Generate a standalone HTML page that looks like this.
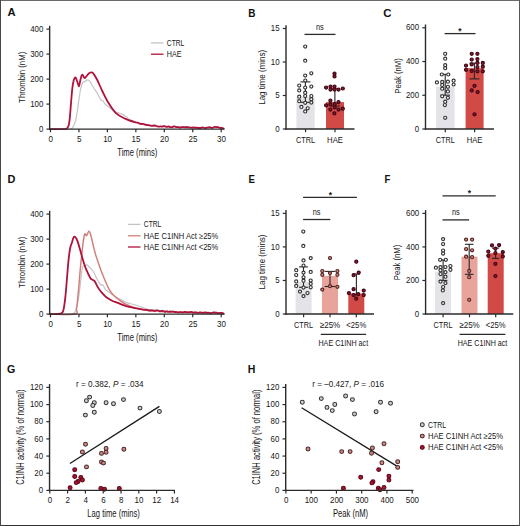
<!DOCTYPE html><html><head><meta charset="utf-8"><style>html,body{margin:0;padding:0;background:#fff;}svg{display:block;}text{font-family:"Liberation Sans",sans-serif;}</style></head><body>
<svg width="520" height="526" viewBox="0 0 520 526">
<rect x="0" y="0" width="520" height="526" fill="#ffffff"/>
<text x="7.40" y="16.40" font-size="11" text-anchor="start" font-weight="bold" fill="#111" textLength="8.10" lengthAdjust="spacingAndGlyphs">A</text>
<text x="248.20" y="16.70" font-size="11" text-anchor="start" font-weight="bold" fill="#111" textLength="7.20" lengthAdjust="spacingAndGlyphs">B</text>
<text x="383.20" y="16.80" font-size="11" text-anchor="start" font-weight="bold" fill="#111" textLength="8.20" lengthAdjust="spacingAndGlyphs">C</text>
<text x="7.40" y="183.10" font-size="11" text-anchor="start" font-weight="bold" fill="#111" textLength="7.90" lengthAdjust="spacingAndGlyphs">D</text>
<text x="248.50" y="183.10" font-size="11" text-anchor="start" font-weight="bold" fill="#111" textLength="6.40" lengthAdjust="spacingAndGlyphs">E</text>
<text x="384.60" y="183.30" font-size="11" text-anchor="start" font-weight="bold" fill="#111" textLength="5.80" lengthAdjust="spacingAndGlyphs">F</text>
<text x="7.00" y="372.80" font-size="11" text-anchor="start" font-weight="bold" fill="#111" textLength="8.30" lengthAdjust="spacingAndGlyphs">G</text>
<text x="247.80" y="372.90" font-size="11" text-anchor="start" font-weight="bold" fill="#111" textLength="7.60" lengthAdjust="spacingAndGlyphs">H</text>
<path d="M50.00,129.10 C53.30,129.10 65.92,129.55 69.80,129.10 C73.68,128.65 72.33,127.87 73.30,126.40 C74.27,124.93 74.92,122.93 75.60,120.30 C76.28,117.67 76.82,114.25 77.40,110.60 C77.98,106.95 78.55,102.05 79.10,98.40 C79.65,94.75 80.10,91.33 80.70,88.70 C81.30,86.07 81.97,83.82 82.70,82.60 C83.43,81.38 84.30,81.85 85.10,81.40 C85.90,80.95 86.68,79.90 87.50,79.90 C88.32,79.90 89.25,80.55 90.00,81.40 C90.75,82.25 91.25,83.73 92.00,85.00 C92.75,86.27 93.67,87.73 94.50,89.00 C95.33,90.27 96.25,91.35 97.00,92.60 C97.75,93.85 98.33,95.27 99.00,96.50 C99.67,97.73 100.33,99.25 101.00,100.00 C101.67,100.75 102.33,100.33 103.00,101.00 C103.67,101.67 104.33,103.25 105.00,104.00 C105.67,104.75 106.17,104.83 107.00,105.50 C107.83,106.17 109.17,107.28 110.00,108.00 C110.83,108.72 111.33,109.38 112.00,109.80 C112.67,110.21 113.33,110.12 114.00,110.50 C114.67,110.88 115.33,111.74 116.00,112.09 C116.67,112.44 117.17,112.31 118.00,112.60 C118.83,112.89 120.17,113.51 121.00,113.80 C121.83,114.09 122.33,114.00 123.00,114.37 C123.67,114.73 124.39,115.62 125.00,116.00 C125.61,116.38 126.11,116.21 126.67,116.67 C127.22,117.12 127.78,118.26 128.33,118.74 C128.89,119.21 129.39,119.19 130.00,119.50 C130.61,119.81 131.33,120.30 132.00,120.62 C132.67,120.93 133.33,121.14 134.00,121.37 C134.67,121.60 135.37,121.86 136.00,122.00 C136.63,122.14 137.19,122.06 137.78,122.24 C138.38,122.41 138.97,122.85 139.57,123.06 C140.16,123.28 140.76,123.38 141.35,123.53 C141.94,123.68 142.54,123.90 143.13,123.96 C143.73,124.03 144.32,123.78 144.92,123.92 C145.51,124.06 146.11,124.63 146.70,124.80 C147.29,124.97 147.88,124.90 148.47,124.97 C149.06,125.03 149.64,125.03 150.23,125.17 C150.82,125.31 151.41,125.61 152.00,125.82 C152.59,126.02 153.18,126.27 153.77,126.39 C154.36,126.52 154.94,126.60 155.53,126.59 C156.12,126.57 156.74,126.33 157.30,126.30 C157.86,126.27 158.38,126.41 158.92,126.41 C159.46,126.42 160.01,126.39 160.55,126.36 C161.09,126.32 161.63,126.27 162.17,126.21 C162.71,126.15 163.25,126.02 163.79,125.99 C164.33,125.96 164.87,125.93 165.42,126.04 C165.96,126.15 166.50,126.55 167.04,126.63 C167.58,126.71 168.12,126.51 168.66,126.51 C169.20,126.52 169.74,126.51 170.28,126.65 C170.83,126.78 171.37,127.27 171.91,127.32 C172.45,127.37 172.99,126.99 173.53,126.95 C174.07,126.90 174.61,127.09 175.15,127.05 C175.69,127.01 176.24,126.71 176.78,126.72 C177.32,126.73 177.86,127.12 178.40,127.10 C178.94,127.08 179.49,126.61 180.03,126.60 C180.57,126.59 181.12,126.98 181.66,127.03 C182.21,127.07 182.75,126.81 183.29,126.87 C183.84,126.93 184.38,127.19 184.92,127.39 C185.47,127.58 186.01,127.99 186.55,128.04 C187.10,128.10 187.64,127.87 188.18,127.72 C188.73,127.58 189.27,127.14 189.82,127.20 C190.36,127.27 190.90,127.98 191.45,128.13 C191.99,128.27 192.53,128.09 193.08,128.08 C193.62,128.07 194.16,128.03 194.71,128.07 C195.25,128.12 195.79,128.32 196.34,128.35 C196.88,128.38 197.43,128.30 197.97,128.25 C198.51,128.19 199.05,127.99 199.60,128.00 C200.15,128.01 200.73,128.33 201.29,128.28 C201.85,128.23 202.42,127.67 202.98,127.68 C203.54,127.70 204.11,128.27 204.67,128.37 C205.23,128.47 205.80,128.46 206.36,128.27 C206.92,128.09 207.49,127.31 208.05,127.24 C208.61,127.18 209.18,127.80 209.74,127.88 C210.30,127.97 210.87,127.85 211.43,127.77 C211.99,127.69 212.56,127.45 213.12,127.39 C213.68,127.33 214.25,127.42 214.81,127.41 C215.37,127.39 215.93,127.28 216.50,127.30 C217.07,127.32 217.66,127.36 218.23,127.52 C218.81,127.68 219.39,128.20 219.97,128.28 C220.54,128.36 221.13,127.95 221.70,128.00 C222.27,128.05 223.12,128.50 223.40,128.60" fill="none" stroke="#c4c4c8" stroke-width="1.2" stroke-linejoin="round" stroke-linecap="round"/>
<path d="M50.00,129.10 C51.67,129.10 57.25,129.17 60.00,129.10 C62.75,129.03 65.05,129.35 66.50,128.70 C67.95,128.05 68.13,127.20 68.70,125.20 C69.27,123.20 69.50,120.57 69.90,116.70 C70.30,112.83 70.70,106.67 71.10,102.00 C71.50,97.33 71.88,92.23 72.30,88.70 C72.72,85.17 73.08,82.67 73.60,80.80 C74.12,78.93 74.80,77.40 75.40,77.50 C76.00,77.60 76.60,79.92 77.20,81.40 C77.80,82.88 78.50,86.50 79.00,86.40 C79.50,86.30 79.78,82.57 80.20,80.80 C80.62,79.03 81.08,76.78 81.50,75.80 C81.92,74.82 82.20,74.53 82.70,74.90 C83.20,75.27 83.90,77.73 84.50,78.00 C85.10,78.27 85.58,77.25 86.30,76.50 C87.02,75.75 88.02,74.18 88.80,73.50 C89.58,72.82 90.30,72.45 91.00,72.40 C91.70,72.35 92.00,72.02 93.00,73.20 C94.00,74.38 95.45,76.53 97.00,79.50 C98.55,82.47 100.53,87.33 102.30,91.00 C104.07,94.67 105.38,97.87 107.60,101.50 C109.82,105.13 112.70,109.95 115.60,112.80 C118.50,115.65 121.60,116.98 125.00,118.60 C128.40,120.22 133.87,121.84 136.00,122.50 C138.13,123.16 137.19,122.40 137.78,122.59 C138.38,122.78 138.97,123.41 139.57,123.65 C140.16,123.88 140.76,123.94 141.35,123.99 C141.94,124.04 142.54,123.85 143.13,123.95 C143.73,124.04 144.32,124.40 144.92,124.58 C145.51,124.75 146.11,124.90 146.70,125.00 C147.29,125.10 147.88,125.08 148.47,125.17 C149.06,125.27 149.64,125.45 150.23,125.57 C150.82,125.69 151.41,125.92 152.00,125.91 C152.59,125.90 153.18,125.54 153.77,125.50 C154.36,125.46 154.94,125.53 155.53,125.66 C156.12,125.79 156.74,126.13 157.30,126.30 C157.86,126.47 158.38,126.65 158.92,126.66 C159.46,126.67 160.01,126.35 160.55,126.36 C161.09,126.37 161.63,126.76 162.17,126.72 C162.71,126.68 163.25,126.13 163.79,126.10 C164.33,126.07 164.87,126.43 165.42,126.56 C165.96,126.69 166.50,126.88 167.04,126.87 C167.58,126.86 168.12,126.43 168.66,126.49 C169.20,126.54 169.74,127.07 170.28,127.19 C170.83,127.31 171.37,127.33 171.91,127.22 C172.45,127.10 172.99,126.60 173.53,126.49 C174.07,126.38 174.61,126.45 175.15,126.55 C175.69,126.65 176.24,126.98 176.78,127.08 C177.32,127.17 177.86,127.02 178.40,127.10 C178.94,127.18 179.49,127.56 180.03,127.56 C180.57,127.57 181.12,127.22 181.66,127.13 C182.21,127.05 182.75,127.02 183.29,127.05 C183.84,127.08 184.38,127.31 184.92,127.31 C185.47,127.30 186.01,127.03 186.55,127.02 C187.10,127.02 187.64,127.18 188.18,127.26 C188.73,127.35 189.27,127.46 189.82,127.53 C190.36,127.59 190.90,127.66 191.45,127.65 C191.99,127.64 192.53,127.50 193.08,127.48 C193.62,127.47 194.16,127.53 194.71,127.55 C195.25,127.57 195.79,127.55 196.34,127.61 C196.88,127.67 197.43,127.83 197.97,127.89 C198.51,127.96 199.05,128.03 199.60,128.00 C200.15,127.97 200.73,127.82 201.29,127.72 C201.85,127.62 202.42,127.34 202.98,127.39 C203.54,127.44 204.11,127.98 204.67,128.03 C205.23,128.08 205.80,127.75 206.36,127.69 C206.92,127.63 207.49,127.76 208.05,127.68 C208.61,127.59 209.18,127.15 209.74,127.18 C210.30,127.20 210.87,127.74 211.43,127.81 C211.99,127.88 212.56,127.76 213.12,127.60 C213.68,127.44 214.25,126.93 214.81,126.85 C215.37,126.76 215.93,127.04 216.50,127.10 C217.07,127.16 217.66,127.07 218.23,127.18 C218.81,127.29 219.39,127.66 219.97,127.77 C220.54,127.87 221.09,127.66 221.70,127.80 C222.31,127.94 223.28,128.47 223.60,128.60" fill="none" stroke="#b0123b" stroke-width="1.8" stroke-linejoin="round" stroke-linecap="round"/>
<line x1="49.65" y1="25.80" x2="49.65" y2="129.80" stroke="#2b2b2b" stroke-width="1.4"/>
<line x1="46.45" y1="129.10" x2="49.65" y2="129.10" stroke="#2b2b2b" stroke-width="1.2"/>
<text x="43.40" y="131.70" font-size="8.6" text-anchor="end" font-weight="normal" fill="#161616" textLength="4.40" lengthAdjust="spacingAndGlyphs">0</text>
<line x1="46.45" y1="104.10" x2="49.65" y2="104.10" stroke="#2b2b2b" stroke-width="1.2"/>
<text x="43.40" y="106.70" font-size="8.6" text-anchor="end" font-weight="normal" fill="#161616" textLength="13.20" lengthAdjust="spacingAndGlyphs">100</text>
<line x1="46.45" y1="79.10" x2="49.65" y2="79.10" stroke="#2b2b2b" stroke-width="1.2"/>
<text x="43.40" y="81.70" font-size="8.6" text-anchor="end" font-weight="normal" fill="#161616" textLength="13.20" lengthAdjust="spacingAndGlyphs">200</text>
<line x1="46.45" y1="54.10" x2="49.65" y2="54.10" stroke="#2b2b2b" stroke-width="1.2"/>
<text x="43.40" y="56.70" font-size="8.6" text-anchor="end" font-weight="normal" fill="#161616" textLength="13.20" lengthAdjust="spacingAndGlyphs">300</text>
<line x1="46.45" y1="29.10" x2="49.65" y2="29.10" stroke="#2b2b2b" stroke-width="1.2"/>
<text x="43.40" y="31.70" font-size="8.6" text-anchor="end" font-weight="normal" fill="#161616" textLength="13.20" lengthAdjust="spacingAndGlyphs">400</text>
<line x1="48.95" y1="129.10" x2="224.50" y2="129.10" stroke="#2b2b2b" stroke-width="1.4"/>
<line x1="50.50" y1="129.10" x2="50.50" y2="132.30" stroke="#2b2b2b" stroke-width="1.2"/>
<text x="50.70" y="142.30" font-size="8.6" text-anchor="middle" font-weight="normal" fill="#161616" textLength="4.45" lengthAdjust="spacingAndGlyphs">0</text>
<line x1="78.95" y1="129.10" x2="78.95" y2="132.30" stroke="#2b2b2b" stroke-width="1.2"/>
<text x="79.15" y="142.30" font-size="8.6" text-anchor="middle" font-weight="normal" fill="#161616" textLength="4.45" lengthAdjust="spacingAndGlyphs">5</text>
<line x1="107.40" y1="129.10" x2="107.40" y2="132.30" stroke="#2b2b2b" stroke-width="1.2"/>
<text x="107.60" y="142.30" font-size="8.6" text-anchor="middle" font-weight="normal" fill="#161616" textLength="8.90" lengthAdjust="spacingAndGlyphs">10</text>
<line x1="135.85" y1="129.10" x2="135.85" y2="132.30" stroke="#2b2b2b" stroke-width="1.2"/>
<text x="136.05" y="142.30" font-size="8.6" text-anchor="middle" font-weight="normal" fill="#161616" textLength="8.90" lengthAdjust="spacingAndGlyphs">15</text>
<line x1="164.30" y1="129.10" x2="164.30" y2="132.30" stroke="#2b2b2b" stroke-width="1.2"/>
<text x="164.50" y="142.30" font-size="8.6" text-anchor="middle" font-weight="normal" fill="#161616" textLength="8.90" lengthAdjust="spacingAndGlyphs">20</text>
<line x1="192.75" y1="129.10" x2="192.75" y2="132.30" stroke="#2b2b2b" stroke-width="1.2"/>
<text x="192.95" y="142.30" font-size="8.6" text-anchor="middle" font-weight="normal" fill="#161616" textLength="8.90" lengthAdjust="spacingAndGlyphs">25</text>
<line x1="221.20" y1="129.10" x2="221.20" y2="132.30" stroke="#2b2b2b" stroke-width="1.2"/>
<text x="221.40" y="142.30" font-size="8.6" text-anchor="middle" font-weight="normal" fill="#161616" textLength="8.90" lengthAdjust="spacingAndGlyphs">30</text>
<text x="137.30" y="156.00" font-size="10.6" text-anchor="middle" font-weight="normal" fill="#161616" textLength="40.00" lengthAdjust="spacingAndGlyphs">Time (mins)</text>
<text x="24.90" y="77.30" font-size="9.5" text-anchor="middle" font-weight="normal" fill="#161616" textLength="51.20" lengthAdjust="spacingAndGlyphs" transform="rotate(-90 24.90 77.30)">Thrombin (nM)</text>
<line x1="151.00" y1="42.90" x2="163.50" y2="42.90" stroke="#c4c4c8" stroke-width="1.3"/>
<text x="166.80" y="45.80" font-size="8.2" text-anchor="start" font-weight="normal" fill="#161616" textLength="17.50" lengthAdjust="spacingAndGlyphs">CTRL</text>
<line x1="151.00" y1="54.20" x2="163.50" y2="54.20" stroke="#b0123b" stroke-width="1.3"/>
<text x="166.80" y="57.10" font-size="8.2" text-anchor="start" font-weight="normal" fill="#161616" textLength="14.60" lengthAdjust="spacingAndGlyphs">HAE</text>
<path d="M50.00,314.10 C53.50,314.08 66.72,314.67 71.00,314.00 C75.28,313.33 74.48,312.52 75.70,310.10 C76.92,307.68 77.48,304.22 78.30,299.50 C79.12,294.78 79.92,287.12 80.60,281.80 C81.28,276.48 81.75,270.25 82.40,267.60 C83.05,264.95 83.70,266.33 84.50,265.90 C85.30,265.47 86.32,264.72 87.20,265.00 C88.08,265.28 88.77,266.52 89.80,267.60 C90.83,268.68 92.43,270.05 93.40,271.50 C94.37,272.95 94.77,274.63 95.60,276.30 C96.43,277.97 97.55,280.07 98.40,281.50 C99.25,282.93 99.93,284.33 100.70,284.90 C101.47,285.47 102.23,284.15 103.00,284.90 C103.77,285.65 104.35,288.27 105.30,289.40 C106.25,290.53 107.57,290.83 108.70,291.70 C109.83,292.57 110.77,293.65 112.10,294.60 C113.43,295.55 115.17,296.55 116.70,297.40 C118.23,298.25 119.58,298.83 121.30,299.70 C123.02,300.57 125.10,301.83 127.00,302.60 C128.90,303.37 130.53,303.65 132.70,304.30 C134.87,304.95 138.51,306.03 140.00,306.50 C141.49,306.97 141.11,306.91 141.67,307.11 C142.22,307.31 142.78,307.53 143.33,307.72 C143.89,307.91 144.44,308.07 145.00,308.27 C145.56,308.46 146.11,308.74 146.67,308.90 C147.22,309.06 147.78,309.12 148.33,309.22 C148.89,309.32 149.44,309.36 150.00,309.50 C150.56,309.64 151.11,310.05 151.67,310.03 C152.22,310.01 152.78,309.40 153.33,309.38 C153.89,309.37 154.44,309.74 155.00,309.93 C155.56,310.12 156.11,310.43 156.67,310.51 C157.22,310.59 157.78,310.36 158.33,310.40 C158.89,310.45 159.44,310.81 160.00,310.78 C160.56,310.75 161.11,310.24 161.67,310.23 C162.22,310.21 162.78,310.63 163.33,310.70 C163.89,310.77 164.44,310.59 165.00,310.65 C165.56,310.71 166.11,310.97 166.67,311.07 C167.22,311.17 167.78,311.28 168.33,311.25 C168.89,311.22 169.44,310.90 170.00,310.90 C170.56,310.90 171.11,311.15 171.67,311.24 C172.22,311.33 172.78,311.35 173.33,311.45 C173.89,311.54 174.44,311.67 175.00,311.80 C175.56,311.93 176.11,312.18 176.67,312.24 C177.22,312.30 177.78,312.26 178.33,312.17 C178.89,312.08 179.44,311.67 180.00,311.69 C180.56,311.72 181.11,312.32 181.67,312.33 C182.22,312.35 182.78,311.81 183.33,311.81 C183.89,311.80 184.44,312.29 185.00,312.31 C185.56,312.33 186.11,312.00 186.67,311.93 C187.22,311.86 187.78,311.75 188.33,311.88 C188.89,312.02 189.44,312.68 190.00,312.73 C190.56,312.79 191.11,312.28 191.67,312.21 C192.22,312.13 192.78,312.14 193.33,312.28 C193.89,312.42 194.44,312.91 195.00,313.03 C195.56,313.15 196.11,313.08 196.67,313.00 C197.22,312.92 197.78,312.58 198.33,312.54 C198.89,312.51 199.44,312.68 200.00,312.80 C200.56,312.92 201.11,313.24 201.67,313.25 C202.23,313.27 202.78,312.94 203.34,312.91 C203.89,312.88 204.45,313.11 205.01,313.08 C205.56,313.04 206.12,312.64 206.68,312.69 C207.23,312.74 207.79,313.30 208.35,313.39 C208.90,313.47 209.46,313.19 210.02,313.20 C210.57,313.22 211.13,313.45 211.68,313.49 C212.24,313.53 212.80,313.55 213.35,313.46 C213.91,313.37 214.47,313.03 215.02,312.97 C215.58,312.90 216.14,313.07 216.69,313.06 C217.25,313.05 217.81,312.94 218.36,312.92 C218.92,312.90 219.47,312.88 220.03,312.94 C220.59,313.01 221.14,313.19 221.70,313.30 C222.26,313.41 223.12,313.55 223.40,313.60" fill="none" stroke="#c4c4c8" stroke-width="1.2" stroke-linejoin="round" stroke-linecap="round"/>
<path d="M50.00,314.10 C54.13,314.08 70.37,315.00 74.80,314.00 C79.23,313.00 76.02,311.73 76.60,308.10 C77.18,304.47 77.72,298.38 78.30,292.20 C78.88,286.02 79.50,277.48 80.10,271.00 C80.70,264.52 81.32,258.62 81.90,253.30 C82.48,247.98 83.10,242.35 83.60,239.10 C84.10,235.85 84.40,234.38 84.90,233.80 C85.40,233.22 85.93,236.03 86.60,235.60 C87.27,235.17 88.22,231.35 88.90,231.20 C89.58,231.05 89.95,232.20 90.70,234.70 C91.45,237.20 92.52,242.67 93.40,246.20 C94.28,249.73 94.97,252.53 96.00,255.90 C97.03,259.27 98.43,263.13 99.60,266.40 C100.77,269.67 101.87,272.65 103.00,275.50 C104.13,278.35 105.27,281.02 106.40,283.50 C107.53,285.98 108.47,288.30 109.80,290.40 C111.13,292.50 112.68,294.38 114.40,296.10 C116.12,297.82 118.20,299.37 120.10,300.70 C122.00,302.03 122.90,302.78 125.80,304.10 C128.70,305.42 133.47,307.52 137.50,308.60 C141.53,309.68 147.64,310.29 150.00,310.60 C152.36,310.91 151.11,310.48 151.67,310.46 C152.22,310.43 152.78,310.37 153.33,310.43 C153.89,310.48 154.44,310.75 155.00,310.79 C155.56,310.83 156.11,310.68 156.67,310.66 C157.22,310.64 157.78,310.61 158.33,310.68 C158.89,310.74 159.44,310.91 160.00,311.07 C160.56,311.23 161.11,311.54 161.67,311.63 C162.22,311.72 162.78,311.61 163.33,311.62 C163.89,311.63 164.44,311.73 165.00,311.68 C165.56,311.62 166.11,311.29 166.67,311.28 C167.22,311.28 167.78,311.62 168.33,311.66 C168.89,311.70 169.44,311.54 170.00,311.52 C170.56,311.50 171.11,311.51 171.67,311.52 C172.22,311.52 172.78,311.47 173.33,311.55 C173.89,311.63 174.44,311.96 175.00,312.00 C175.56,312.04 176.11,311.70 176.67,311.78 C177.22,311.85 177.78,312.35 178.33,312.45 C178.89,312.55 179.44,312.40 180.00,312.40 C180.56,312.39 181.11,312.40 181.67,312.41 C182.22,312.42 182.78,312.52 183.33,312.44 C183.89,312.36 184.44,311.99 185.00,311.92 C185.56,311.86 186.11,311.99 186.67,312.06 C187.22,312.14 187.78,312.31 188.33,312.38 C188.89,312.46 189.44,312.46 190.00,312.51 C190.56,312.55 191.11,312.62 191.67,312.65 C192.22,312.69 192.78,312.81 193.33,312.71 C193.89,312.60 194.44,312.06 195.00,312.03 C195.56,312.00 196.11,312.43 196.67,312.53 C197.22,312.63 197.78,312.63 198.33,312.62 C198.89,312.62 199.44,312.51 200.00,312.50 C200.56,312.49 201.11,312.58 201.67,312.54 C202.23,312.51 202.78,312.28 203.34,312.29 C203.89,312.29 204.45,312.59 205.01,312.59 C205.56,312.59 206.12,312.20 206.68,312.28 C207.23,312.37 207.79,312.95 208.35,313.08 C208.90,313.21 209.46,313.10 210.02,313.06 C210.57,313.01 211.13,312.88 211.68,312.81 C212.24,312.74 212.80,312.56 213.35,312.63 C213.91,312.69 214.47,313.16 215.02,313.21 C215.58,313.27 216.14,312.94 216.69,312.95 C217.25,312.96 217.81,313.21 218.36,313.27 C218.92,313.32 219.47,313.32 220.03,313.27 C220.59,313.23 221.14,312.95 221.70,313.00 C222.26,313.05 223.12,313.50 223.40,313.60" fill="none" stroke="#d27e77" stroke-width="1.45" stroke-linejoin="round" stroke-linecap="round"/>
<path d="M50.00,314.10 C51.33,314.08 55.95,314.25 58.00,314.00 C60.05,313.75 61.32,313.63 62.30,312.60 C63.28,311.57 63.37,310.62 63.90,307.80 C64.43,304.98 64.98,300.67 65.50,295.70 C66.02,290.73 66.50,283.88 67.00,278.00 C67.50,272.12 67.97,265.40 68.50,260.40 C69.03,255.40 69.63,250.95 70.20,248.00 C70.77,245.05 71.33,244.47 71.90,242.70 C72.47,240.93 73.03,238.32 73.60,237.40 C74.17,236.48 74.67,236.62 75.30,237.20 C75.93,237.78 76.60,238.80 77.40,240.90 C78.20,243.00 79.20,246.70 80.10,249.80 C81.00,252.90 81.92,256.57 82.80,259.50 C83.68,262.43 84.52,265.05 85.40,267.40 C86.28,269.75 87.22,271.73 88.10,273.60 C88.98,275.47 89.82,277.50 90.70,278.60 C91.58,279.70 92.68,279.67 93.40,280.20 C94.12,280.73 94.17,280.48 95.00,281.80 C95.83,283.12 97.27,286.28 98.40,288.10 C99.53,289.92 100.47,291.18 101.80,292.70 C103.13,294.22 104.68,295.87 106.40,297.20 C108.12,298.53 110.20,299.75 112.10,300.70 C114.00,301.65 115.90,302.15 117.80,302.90 C119.70,303.65 121.60,304.53 123.50,305.20 C125.40,305.87 127.28,306.42 129.20,306.90 C131.12,307.38 132.37,307.62 135.00,308.10 C137.63,308.58 143.06,309.52 145.00,309.80 C146.94,310.08 146.11,309.71 146.67,309.80 C147.22,309.88 147.78,310.19 148.33,310.31 C148.89,310.42 149.44,310.47 150.00,310.50 C150.56,310.53 151.11,310.43 151.67,310.48 C152.22,310.53 152.78,310.72 153.33,310.79 C153.89,310.87 154.44,310.96 155.00,310.91 C155.56,310.87 156.11,310.57 156.67,310.51 C157.22,310.45 157.78,310.41 158.33,310.56 C158.89,310.71 159.44,311.33 160.00,311.40 C160.56,311.47 161.11,311.04 161.67,310.98 C162.22,310.93 162.78,310.92 163.33,311.06 C163.89,311.20 164.44,311.78 165.00,311.85 C165.56,311.91 166.11,311.46 166.67,311.47 C167.22,311.48 167.78,311.87 168.33,311.90 C168.89,311.94 169.44,311.67 170.00,311.68 C170.56,311.68 171.11,311.94 171.67,311.93 C172.22,311.91 172.78,311.57 173.33,311.59 C173.89,311.60 174.44,311.91 175.00,312.00 C175.56,312.09 176.11,312.09 176.67,312.15 C177.22,312.22 177.78,312.40 178.33,312.40 C178.89,312.39 179.44,312.13 180.00,312.12 C180.56,312.11 181.11,312.32 181.67,312.35 C182.22,312.38 182.78,312.41 183.33,312.32 C183.89,312.23 184.44,311.78 185.00,311.81 C185.56,311.83 186.11,312.38 186.67,312.47 C187.22,312.56 187.78,312.41 188.33,312.35 C188.89,312.29 189.44,312.19 190.00,312.12 C190.56,312.05 191.11,311.82 191.67,311.91 C192.22,312.01 192.78,312.62 193.33,312.70 C193.89,312.77 194.44,312.39 195.00,312.38 C195.56,312.36 196.11,312.56 196.67,312.63 C197.22,312.70 197.78,312.83 198.33,312.81 C198.89,312.79 199.44,312.51 200.00,312.50 C200.56,312.49 201.11,312.66 201.67,312.73 C202.23,312.81 202.78,312.99 203.34,312.96 C203.89,312.92 204.45,312.53 205.01,312.52 C205.56,312.52 206.12,312.90 206.68,312.92 C207.23,312.94 207.79,312.61 208.35,312.64 C208.90,312.68 209.46,313.04 210.02,313.12 C210.57,313.20 211.13,313.22 211.68,313.11 C212.24,313.00 212.80,312.54 213.35,312.45 C213.91,312.35 214.47,312.49 215.02,312.52 C215.58,312.55 216.14,312.49 216.69,312.63 C217.25,312.77 217.81,313.30 218.36,313.34 C218.92,313.39 219.47,312.96 220.03,312.90 C220.59,312.85 221.11,312.88 221.70,313.00 C222.29,313.12 223.28,313.50 223.60,313.60" fill="none" stroke="#b0123b" stroke-width="1.8" stroke-linejoin="round" stroke-linecap="round"/>
<line x1="49.65" y1="210.80" x2="49.65" y2="314.80" stroke="#2b2b2b" stroke-width="1.4"/>
<line x1="46.45" y1="314.10" x2="49.65" y2="314.10" stroke="#2b2b2b" stroke-width="1.2"/>
<text x="43.40" y="316.70" font-size="8.6" text-anchor="end" font-weight="normal" fill="#161616" textLength="4.40" lengthAdjust="spacingAndGlyphs">0</text>
<line x1="46.45" y1="289.10" x2="49.65" y2="289.10" stroke="#2b2b2b" stroke-width="1.2"/>
<text x="43.40" y="291.70" font-size="8.6" text-anchor="end" font-weight="normal" fill="#161616" textLength="13.20" lengthAdjust="spacingAndGlyphs">100</text>
<line x1="46.45" y1="264.10" x2="49.65" y2="264.10" stroke="#2b2b2b" stroke-width="1.2"/>
<text x="43.40" y="266.70" font-size="8.6" text-anchor="end" font-weight="normal" fill="#161616" textLength="13.20" lengthAdjust="spacingAndGlyphs">200</text>
<line x1="46.45" y1="239.10" x2="49.65" y2="239.10" stroke="#2b2b2b" stroke-width="1.2"/>
<text x="43.40" y="241.70" font-size="8.6" text-anchor="end" font-weight="normal" fill="#161616" textLength="13.20" lengthAdjust="spacingAndGlyphs">300</text>
<line x1="46.45" y1="214.10" x2="49.65" y2="214.10" stroke="#2b2b2b" stroke-width="1.2"/>
<text x="43.40" y="216.70" font-size="8.6" text-anchor="end" font-weight="normal" fill="#161616" textLength="13.20" lengthAdjust="spacingAndGlyphs">400</text>
<line x1="48.95" y1="314.10" x2="224.50" y2="314.10" stroke="#2b2b2b" stroke-width="1.4"/>
<line x1="50.50" y1="314.10" x2="50.50" y2="317.30" stroke="#2b2b2b" stroke-width="1.2"/>
<text x="50.70" y="327.30" font-size="8.6" text-anchor="middle" font-weight="normal" fill="#161616" textLength="4.45" lengthAdjust="spacingAndGlyphs">0</text>
<line x1="78.95" y1="314.10" x2="78.95" y2="317.30" stroke="#2b2b2b" stroke-width="1.2"/>
<text x="79.15" y="327.30" font-size="8.6" text-anchor="middle" font-weight="normal" fill="#161616" textLength="4.45" lengthAdjust="spacingAndGlyphs">5</text>
<line x1="107.40" y1="314.10" x2="107.40" y2="317.30" stroke="#2b2b2b" stroke-width="1.2"/>
<text x="107.60" y="327.30" font-size="8.6" text-anchor="middle" font-weight="normal" fill="#161616" textLength="8.90" lengthAdjust="spacingAndGlyphs">10</text>
<line x1="135.85" y1="314.10" x2="135.85" y2="317.30" stroke="#2b2b2b" stroke-width="1.2"/>
<text x="136.05" y="327.30" font-size="8.6" text-anchor="middle" font-weight="normal" fill="#161616" textLength="8.90" lengthAdjust="spacingAndGlyphs">15</text>
<line x1="164.30" y1="314.10" x2="164.30" y2="317.30" stroke="#2b2b2b" stroke-width="1.2"/>
<text x="164.50" y="327.30" font-size="8.6" text-anchor="middle" font-weight="normal" fill="#161616" textLength="8.90" lengthAdjust="spacingAndGlyphs">20</text>
<line x1="192.75" y1="314.10" x2="192.75" y2="317.30" stroke="#2b2b2b" stroke-width="1.2"/>
<text x="192.95" y="327.30" font-size="8.6" text-anchor="middle" font-weight="normal" fill="#161616" textLength="8.90" lengthAdjust="spacingAndGlyphs">25</text>
<line x1="221.20" y1="314.10" x2="221.20" y2="317.30" stroke="#2b2b2b" stroke-width="1.2"/>
<text x="221.40" y="327.30" font-size="8.6" text-anchor="middle" font-weight="normal" fill="#161616" textLength="8.90" lengthAdjust="spacingAndGlyphs">30</text>
<text x="137.30" y="341.00" font-size="10.6" text-anchor="middle" font-weight="normal" fill="#161616" textLength="40.00" lengthAdjust="spacingAndGlyphs">Time (mins)</text>
<text x="24.90" y="262.30" font-size="9.5" text-anchor="middle" font-weight="normal" fill="#161616" textLength="51.20" lengthAdjust="spacingAndGlyphs" transform="rotate(-90 24.90 262.30)">Thrombin (nM)</text>
<line x1="128.00" y1="224.40" x2="140.50" y2="224.40" stroke="#c4c4c8" stroke-width="1.3"/>
<text x="143.80" y="227.30" font-size="8.2" text-anchor="start" font-weight="normal" fill="#161616" textLength="17.50" lengthAdjust="spacingAndGlyphs">CTRL</text>
<line x1="128.00" y1="235.80" x2="140.50" y2="235.80" stroke="#d27e77" stroke-width="1.3"/>
<text x="143.80" y="238.70" font-size="8.2" text-anchor="start" font-weight="normal" fill="#161616" textLength="74.50" lengthAdjust="spacingAndGlyphs">HAE C1INH Act ≥25%</text>
<line x1="128.00" y1="247.00" x2="140.50" y2="247.00" stroke="#b0123b" stroke-width="1.3"/>
<text x="143.80" y="249.90" font-size="8.2" text-anchor="start" font-weight="normal" fill="#161616" textLength="74.50" lengthAdjust="spacingAndGlyphs">HAE C1INH Act &lt;25%</text>
<rect x="296.40" y="97.00" width="18.30" height="32.00" fill="#e4e4e8"/>
<rect x="326.00" y="102.10" width="18.00" height="26.90" fill="#d24a46"/>
<line x1="305.40" y1="81.90" x2="305.40" y2="102.30" stroke="#262626" stroke-width="1.1"/>
<line x1="300.40" y1="81.90" x2="310.40" y2="81.90" stroke="#262626" stroke-width="1.1"/>
<line x1="300.40" y1="102.30" x2="310.40" y2="102.30" stroke="#262626" stroke-width="1.1"/>
<line x1="334.90" y1="88.80" x2="334.90" y2="106.00" stroke="#262626" stroke-width="1.1"/>
<line x1="329.90" y1="88.80" x2="339.90" y2="88.80" stroke="#262626" stroke-width="1.1"/>
<line x1="329.90" y1="106.00" x2="339.90" y2="106.00" stroke="#262626" stroke-width="1.1"/>
<circle cx="305.20" cy="46.50" r="1.55" fill="#ffffff" stroke="#333333" stroke-width="1.15"/>
<circle cx="305.20" cy="60.70" r="1.55" fill="#ffffff" stroke="#333333" stroke-width="1.15"/>
<circle cx="311.30" cy="73.30" r="1.55" fill="#ffffff" stroke="#333333" stroke-width="1.15"/>
<circle cx="305.20" cy="75.60" r="1.55" fill="#ffffff" stroke="#333333" stroke-width="1.15"/>
<circle cx="305.30" cy="80.50" r="1.55" fill="#ffffff" stroke="#333333" stroke-width="1.15"/>
<circle cx="299.20" cy="85.60" r="1.55" fill="#ffffff" stroke="#333333" stroke-width="1.15"/>
<circle cx="305.20" cy="87.50" r="1.55" fill="#ffffff" stroke="#333333" stroke-width="1.15"/>
<circle cx="311.30" cy="86.60" r="1.55" fill="#ffffff" stroke="#333333" stroke-width="1.15"/>
<circle cx="299.20" cy="90.40" r="1.55" fill="#ffffff" stroke="#333333" stroke-width="1.15"/>
<circle cx="305.20" cy="92.70" r="1.55" fill="#ffffff" stroke="#333333" stroke-width="1.15"/>
<circle cx="305.20" cy="96.10" r="1.55" fill="#ffffff" stroke="#333333" stroke-width="1.15"/>
<circle cx="299.20" cy="96.70" r="1.55" fill="#ffffff" stroke="#333333" stroke-width="1.15"/>
<circle cx="311.30" cy="96.00" r="1.55" fill="#ffffff" stroke="#333333" stroke-width="1.15"/>
<circle cx="311.30" cy="99.20" r="1.55" fill="#ffffff" stroke="#333333" stroke-width="1.15"/>
<circle cx="299.20" cy="101.20" r="1.55" fill="#ffffff" stroke="#333333" stroke-width="1.15"/>
<circle cx="305.20" cy="102.80" r="1.55" fill="#ffffff" stroke="#333333" stroke-width="1.15"/>
<circle cx="311.30" cy="102.60" r="1.55" fill="#ffffff" stroke="#333333" stroke-width="1.15"/>
<circle cx="301.40" cy="106.90" r="1.55" fill="#ffffff" stroke="#333333" stroke-width="1.15"/>
<circle cx="307.70" cy="108.30" r="1.55" fill="#ffffff" stroke="#333333" stroke-width="1.15"/>
<circle cx="305.20" cy="111.40" r="1.55" fill="#ffffff" stroke="#333333" stroke-width="1.15"/>
<circle cx="334.50" cy="73.50" r="1.55" fill="#8e142f" stroke="#3e0714" stroke-width="1.15"/>
<circle cx="334.50" cy="76.40" r="1.55" fill="#8e142f" stroke="#3e0714" stroke-width="1.15"/>
<circle cx="326.10" cy="87.60" r="1.55" fill="#8e142f" stroke="#3e0714" stroke-width="1.15"/>
<circle cx="330.50" cy="86.50" r="1.55" fill="#8e142f" stroke="#3e0714" stroke-width="1.15"/>
<circle cx="330.50" cy="89.60" r="1.55" fill="#8e142f" stroke="#3e0714" stroke-width="1.15"/>
<circle cx="334.50" cy="86.50" r="1.55" fill="#8e142f" stroke="#3e0714" stroke-width="1.15"/>
<circle cx="334.50" cy="89.60" r="1.55" fill="#8e142f" stroke="#3e0714" stroke-width="1.15"/>
<circle cx="338.50" cy="89.60" r="1.55" fill="#8e142f" stroke="#3e0714" stroke-width="1.15"/>
<circle cx="342.80" cy="88.50" r="1.55" fill="#8e142f" stroke="#3e0714" stroke-width="1.15"/>
<circle cx="330.40" cy="100.70" r="1.55" fill="#8e142f" stroke="#3e0714" stroke-width="1.15"/>
<circle cx="338.50" cy="102.10" r="1.55" fill="#8e142f" stroke="#3e0714" stroke-width="1.15"/>
<circle cx="326.10" cy="105.30" r="1.55" fill="#8e142f" stroke="#3e0714" stroke-width="1.15"/>
<circle cx="330.40" cy="104.40" r="1.55" fill="#8e142f" stroke="#3e0714" stroke-width="1.15"/>
<circle cx="334.70" cy="104.10" r="1.55" fill="#8e142f" stroke="#3e0714" stroke-width="1.15"/>
<circle cx="334.70" cy="107.30" r="1.55" fill="#8e142f" stroke="#3e0714" stroke-width="1.15"/>
<circle cx="330.40" cy="109.60" r="1.55" fill="#8e142f" stroke="#3e0714" stroke-width="1.15"/>
<circle cx="338.50" cy="109.60" r="1.55" fill="#8e142f" stroke="#3e0714" stroke-width="1.15"/>
<circle cx="342.80" cy="108.70" r="1.55" fill="#8e142f" stroke="#3e0714" stroke-width="1.15"/>
<circle cx="334.40" cy="113.40" r="1.55" fill="#8e142f" stroke="#3e0714" stroke-width="1.15"/>
<line x1="286.00" y1="25.20" x2="286.00" y2="129.70" stroke="#2b2b2b" stroke-width="1.4"/>
<line x1="282.80" y1="129.00" x2="286.00" y2="129.00" stroke="#2b2b2b" stroke-width="1.2"/>
<text x="279.60" y="131.60" font-size="8.6" text-anchor="end" font-weight="normal" fill="#161616" textLength="4.40" lengthAdjust="spacingAndGlyphs">0</text>
<line x1="282.80" y1="95.50" x2="286.00" y2="95.50" stroke="#2b2b2b" stroke-width="1.2"/>
<text x="279.60" y="98.10" font-size="8.6" text-anchor="end" font-weight="normal" fill="#161616" textLength="4.40" lengthAdjust="spacingAndGlyphs">5</text>
<line x1="282.80" y1="62.00" x2="286.00" y2="62.00" stroke="#2b2b2b" stroke-width="1.2"/>
<text x="279.60" y="64.60" font-size="8.6" text-anchor="end" font-weight="normal" fill="#161616" textLength="8.80" lengthAdjust="spacingAndGlyphs">10</text>
<line x1="282.80" y1="28.50" x2="286.00" y2="28.50" stroke="#2b2b2b" stroke-width="1.2"/>
<text x="279.60" y="31.10" font-size="8.6" text-anchor="end" font-weight="normal" fill="#161616" textLength="8.80" lengthAdjust="spacingAndGlyphs">15</text>
<line x1="285.30" y1="129.00" x2="354.50" y2="129.00" stroke="#2b2b2b" stroke-width="1.4"/>
<line x1="305.55" y1="129.00" x2="305.55" y2="132.20" stroke="#2b2b2b" stroke-width="1.2"/>
<line x1="335.00" y1="129.00" x2="335.00" y2="132.20" stroke="#2b2b2b" stroke-width="1.2"/>
<text x="305.55" y="142.60" font-size="9.2" text-anchor="middle" font-weight="normal" fill="#161616" textLength="19.00" lengthAdjust="spacingAndGlyphs">CTRL</text>
<text x="335.00" y="142.60" font-size="9.2" text-anchor="middle" font-weight="normal" fill="#161616" textLength="15.80" lengthAdjust="spacingAndGlyphs">HAE</text>
<text x="265.20" y="77.30" font-size="9.6" text-anchor="middle" font-weight="normal" fill="#161616" textLength="55.00" lengthAdjust="spacingAndGlyphs" transform="rotate(-90 265.20 77.30)">Lag time (mins)</text>
<line x1="304.50" y1="34.40" x2="335.50" y2="34.40" stroke="#2b2b2b" stroke-width="1.3"/>
<text x="319.80" y="29.90" font-size="8.6" text-anchor="middle" font-weight="normal" fill="#161616" textLength="7.80" lengthAdjust="spacingAndGlyphs">ns</text>
<rect x="436.00" y="86.50" width="18.60" height="42.50" fill="#e4e4e8"/>
<rect x="465.60" y="68.20" width="18.00" height="60.80" fill="#d24a46"/>
<line x1="445.20" y1="74.40" x2="445.20" y2="95.20" stroke="#262626" stroke-width="1.1"/>
<line x1="440.40" y1="74.40" x2="450.00" y2="74.40" stroke="#262626" stroke-width="1.1"/>
<line x1="440.40" y1="95.20" x2="450.00" y2="95.20" stroke="#262626" stroke-width="1.1"/>
<line x1="474.40" y1="63.10" x2="474.40" y2="78.90" stroke="#262626" stroke-width="1.1"/>
<line x1="469.40" y1="63.10" x2="479.40" y2="63.10" stroke="#262626" stroke-width="1.1"/>
<line x1="469.40" y1="78.90" x2="479.40" y2="78.90" stroke="#262626" stroke-width="1.1"/>
<circle cx="445.20" cy="53.80" r="1.55" fill="#ffffff" stroke="#333333" stroke-width="1.15"/>
<circle cx="445.20" cy="58.70" r="1.55" fill="#ffffff" stroke="#333333" stroke-width="1.15"/>
<circle cx="445.20" cy="65.20" r="1.55" fill="#ffffff" stroke="#333333" stroke-width="1.15"/>
<circle cx="445.20" cy="68.20" r="1.55" fill="#ffffff" stroke="#333333" stroke-width="1.15"/>
<circle cx="441.80" cy="74.50" r="1.55" fill="#ffffff" stroke="#333333" stroke-width="1.15"/>
<circle cx="448.30" cy="74.50" r="1.55" fill="#ffffff" stroke="#333333" stroke-width="1.15"/>
<circle cx="436.90" cy="82.40" r="1.55" fill="#ffffff" stroke="#333333" stroke-width="1.15"/>
<circle cx="442.20" cy="81.90" r="1.55" fill="#ffffff" stroke="#333333" stroke-width="1.15"/>
<circle cx="447.90" cy="81.70" r="1.55" fill="#ffffff" stroke="#333333" stroke-width="1.15"/>
<circle cx="453.60" cy="80.70" r="1.55" fill="#ffffff" stroke="#333333" stroke-width="1.15"/>
<circle cx="453.60" cy="84.50" r="1.55" fill="#ffffff" stroke="#333333" stroke-width="1.15"/>
<circle cx="442.20" cy="84.90" r="1.55" fill="#ffffff" stroke="#333333" stroke-width="1.15"/>
<circle cx="447.90" cy="86.80" r="1.55" fill="#ffffff" stroke="#333333" stroke-width="1.15"/>
<circle cx="442.20" cy="88.70" r="1.55" fill="#ffffff" stroke="#333333" stroke-width="1.15"/>
<circle cx="447.90" cy="91.40" r="1.55" fill="#ffffff" stroke="#333333" stroke-width="1.15"/>
<circle cx="442.20" cy="96.30" r="1.55" fill="#ffffff" stroke="#333333" stroke-width="1.15"/>
<circle cx="447.90" cy="97.80" r="1.55" fill="#ffffff" stroke="#333333" stroke-width="1.15"/>
<circle cx="445.20" cy="101.70" r="1.55" fill="#ffffff" stroke="#333333" stroke-width="1.15"/>
<circle cx="444.90" cy="105.10" r="1.55" fill="#ffffff" stroke="#333333" stroke-width="1.15"/>
<circle cx="445.20" cy="117.80" r="1.55" fill="#ffffff" stroke="#333333" stroke-width="1.15"/>
<circle cx="471.70" cy="53.80" r="1.55" fill="#8e142f" stroke="#3e0714" stroke-width="1.15"/>
<circle cx="477.40" cy="53.80" r="1.55" fill="#8e142f" stroke="#3e0714" stroke-width="1.15"/>
<circle cx="471.70" cy="59.50" r="1.55" fill="#8e142f" stroke="#3e0714" stroke-width="1.15"/>
<circle cx="477.40" cy="59.10" r="1.55" fill="#8e142f" stroke="#3e0714" stroke-width="1.15"/>
<circle cx="477.40" cy="62.90" r="1.55" fill="#8e142f" stroke="#3e0714" stroke-width="1.15"/>
<circle cx="471.70" cy="64.40" r="1.55" fill="#8e142f" stroke="#3e0714" stroke-width="1.15"/>
<circle cx="482.80" cy="62.90" r="1.55" fill="#8e142f" stroke="#3e0714" stroke-width="1.15"/>
<circle cx="466.00" cy="65.60" r="1.55" fill="#8e142f" stroke="#3e0714" stroke-width="1.15"/>
<circle cx="482.80" cy="66.70" r="1.55" fill="#8e142f" stroke="#3e0714" stroke-width="1.15"/>
<circle cx="477.40" cy="67.10" r="1.55" fill="#8e142f" stroke="#3e0714" stroke-width="1.15"/>
<circle cx="466.00" cy="69.80" r="1.55" fill="#8e142f" stroke="#3e0714" stroke-width="1.15"/>
<circle cx="471.70" cy="70.90" r="1.55" fill="#8e142f" stroke="#3e0714" stroke-width="1.15"/>
<circle cx="477.40" cy="71.30" r="1.55" fill="#8e142f" stroke="#3e0714" stroke-width="1.15"/>
<circle cx="482.80" cy="71.30" r="1.55" fill="#8e142f" stroke="#3e0714" stroke-width="1.15"/>
<circle cx="474.50" cy="85.80" r="1.55" fill="#8e142f" stroke="#3e0714" stroke-width="1.15"/>
<circle cx="471.70" cy="90.40" r="1.55" fill="#8e142f" stroke="#3e0714" stroke-width="1.15"/>
<circle cx="477.60" cy="92.10" r="1.55" fill="#8e142f" stroke="#3e0714" stroke-width="1.15"/>
<circle cx="474.50" cy="114.30" r="1.55" fill="#8e142f" stroke="#3e0714" stroke-width="1.15"/>
<line x1="425.50" y1="24.50" x2="425.50" y2="129.70" stroke="#2b2b2b" stroke-width="1.4"/>
<line x1="422.30" y1="129.00" x2="425.50" y2="129.00" stroke="#2b2b2b" stroke-width="1.2"/>
<text x="419.10" y="131.60" font-size="8.6" text-anchor="end" font-weight="normal" fill="#161616" textLength="4.40" lengthAdjust="spacingAndGlyphs">0</text>
<line x1="422.30" y1="95.27" x2="425.50" y2="95.27" stroke="#2b2b2b" stroke-width="1.2"/>
<text x="419.10" y="97.87" font-size="8.6" text-anchor="end" font-weight="normal" fill="#161616" textLength="13.20" lengthAdjust="spacingAndGlyphs">200</text>
<line x1="422.30" y1="61.53" x2="425.50" y2="61.53" stroke="#2b2b2b" stroke-width="1.2"/>
<text x="419.10" y="64.13" font-size="8.6" text-anchor="end" font-weight="normal" fill="#161616" textLength="13.20" lengthAdjust="spacingAndGlyphs">400</text>
<line x1="422.30" y1="27.80" x2="425.50" y2="27.80" stroke="#2b2b2b" stroke-width="1.2"/>
<text x="419.10" y="30.40" font-size="8.6" text-anchor="end" font-weight="normal" fill="#161616" textLength="13.20" lengthAdjust="spacingAndGlyphs">600</text>
<line x1="424.80" y1="129.00" x2="494.00" y2="129.00" stroke="#2b2b2b" stroke-width="1.4"/>
<line x1="445.30" y1="129.00" x2="445.30" y2="132.20" stroke="#2b2b2b" stroke-width="1.2"/>
<line x1="474.60" y1="129.00" x2="474.60" y2="132.20" stroke="#2b2b2b" stroke-width="1.2"/>
<text x="445.30" y="142.60" font-size="9.2" text-anchor="middle" font-weight="normal" fill="#161616" textLength="19.00" lengthAdjust="spacingAndGlyphs">CTRL</text>
<text x="474.60" y="142.60" font-size="9.2" text-anchor="middle" font-weight="normal" fill="#161616" textLength="15.80" lengthAdjust="spacingAndGlyphs">HAE</text>
<text x="400.60" y="76.00" font-size="9.6" text-anchor="middle" font-weight="normal" fill="#161616" textLength="35.50" lengthAdjust="spacingAndGlyphs" transform="rotate(-90 400.60 76.00)">Peak (nM)</text>
<line x1="444.60" y1="33.60" x2="475.50" y2="33.60" stroke="#2b2b2b" stroke-width="1.3"/>
<text x="460.00" y="34.00" font-size="8.5" text-anchor="middle" font-weight="bold" fill="#161616">*</text>
<rect x="295.60" y="282.00" width="16.00" height="32.00" fill="#e4e4e8"/>
<rect x="322.00" y="275.80" width="16.00" height="38.20" fill="#e8a49b"/>
<rect x="348.30" y="293.50" width="16.00" height="20.50" fill="#d24a46"/>
<line x1="303.50" y1="266.90" x2="303.50" y2="287.30" stroke="#262626" stroke-width="1.1"/>
<line x1="299.10" y1="266.90" x2="307.90" y2="266.90" stroke="#262626" stroke-width="1.1"/>
<line x1="299.10" y1="287.30" x2="307.90" y2="287.30" stroke="#262626" stroke-width="1.1"/>
<line x1="330.00" y1="271.40" x2="330.00" y2="286.50" stroke="#262626" stroke-width="1.1"/>
<line x1="324.60" y1="271.40" x2="335.40" y2="271.40" stroke="#262626" stroke-width="1.1"/>
<line x1="324.60" y1="286.50" x2="335.40" y2="286.50" stroke="#262626" stroke-width="1.1"/>
<line x1="356.40" y1="274.00" x2="356.40" y2="294.50" stroke="#262626" stroke-width="1.1"/>
<line x1="352.80" y1="274.00" x2="360.00" y2="274.00" stroke="#262626" stroke-width="1.1"/>
<line x1="352.80" y1="294.50" x2="360.00" y2="294.50" stroke="#262626" stroke-width="1.1"/>
<circle cx="303.30" cy="231.50" r="1.55" fill="#ffffff" stroke="#333333" stroke-width="1.15"/>
<circle cx="303.30" cy="245.90" r="1.55" fill="#ffffff" stroke="#333333" stroke-width="1.15"/>
<circle cx="310.70" cy="258.10" r="1.55" fill="#ffffff" stroke="#333333" stroke-width="1.15"/>
<circle cx="303.50" cy="260.40" r="1.55" fill="#ffffff" stroke="#333333" stroke-width="1.15"/>
<circle cx="303.50" cy="265.50" r="1.55" fill="#ffffff" stroke="#333333" stroke-width="1.15"/>
<circle cx="296.20" cy="270.20" r="1.55" fill="#ffffff" stroke="#333333" stroke-width="1.15"/>
<circle cx="303.50" cy="272.60" r="1.55" fill="#ffffff" stroke="#333333" stroke-width="1.15"/>
<circle cx="310.70" cy="271.90" r="1.55" fill="#ffffff" stroke="#333333" stroke-width="1.15"/>
<circle cx="296.20" cy="275.00" r="1.55" fill="#ffffff" stroke="#333333" stroke-width="1.15"/>
<circle cx="303.50" cy="277.30" r="1.55" fill="#ffffff" stroke="#333333" stroke-width="1.15"/>
<circle cx="303.50" cy="280.70" r="1.55" fill="#ffffff" stroke="#333333" stroke-width="1.15"/>
<circle cx="296.20" cy="281.40" r="1.55" fill="#ffffff" stroke="#333333" stroke-width="1.15"/>
<circle cx="310.70" cy="280.50" r="1.55" fill="#ffffff" stroke="#333333" stroke-width="1.15"/>
<circle cx="310.70" cy="283.80" r="1.55" fill="#ffffff" stroke="#333333" stroke-width="1.15"/>
<circle cx="296.20" cy="285.90" r="1.55" fill="#ffffff" stroke="#333333" stroke-width="1.15"/>
<circle cx="303.50" cy="287.50" r="1.55" fill="#ffffff" stroke="#333333" stroke-width="1.15"/>
<circle cx="310.70" cy="287.30" r="1.55" fill="#ffffff" stroke="#333333" stroke-width="1.15"/>
<circle cx="300.00" cy="291.60" r="1.55" fill="#ffffff" stroke="#333333" stroke-width="1.15"/>
<circle cx="307.50" cy="293.00" r="1.55" fill="#ffffff" stroke="#333333" stroke-width="1.15"/>
<circle cx="303.50" cy="296.10" r="1.55" fill="#ffffff" stroke="#333333" stroke-width="1.15"/>
<circle cx="330.00" cy="258.00" r="1.55" fill="#cc8a84" stroke="#5a2624" stroke-width="1.15"/>
<circle cx="322.30" cy="271.00" r="1.55" fill="#cc8a84" stroke="#5a2624" stroke-width="1.15"/>
<circle cx="322.30" cy="274.80" r="1.55" fill="#cc8a84" stroke="#5a2624" stroke-width="1.15"/>
<circle cx="330.00" cy="273.10" r="1.55" fill="#cc8a84" stroke="#5a2624" stroke-width="1.15"/>
<circle cx="337.40" cy="271.00" r="1.55" fill="#cc8a84" stroke="#5a2624" stroke-width="1.15"/>
<circle cx="337.40" cy="274.80" r="1.55" fill="#cc8a84" stroke="#5a2624" stroke-width="1.15"/>
<circle cx="330.00" cy="286.20" r="1.55" fill="#cc8a84" stroke="#5a2624" stroke-width="1.15"/>
<circle cx="337.40" cy="286.80" r="1.55" fill="#cc8a84" stroke="#5a2624" stroke-width="1.15"/>
<circle cx="322.30" cy="289.60" r="1.55" fill="#cc8a84" stroke="#5a2624" stroke-width="1.15"/>
<circle cx="356.30" cy="261.70" r="1.55" fill="#8e142f" stroke="#3e0714" stroke-width="1.15"/>
<circle cx="358.70" cy="272.60" r="1.55" fill="#8e142f" stroke="#3e0714" stroke-width="1.15"/>
<circle cx="353.60" cy="275.20" r="1.55" fill="#8e142f" stroke="#3e0714" stroke-width="1.15"/>
<circle cx="353.60" cy="289.20" r="1.55" fill="#8e142f" stroke="#3e0714" stroke-width="1.15"/>
<circle cx="363.70" cy="290.60" r="1.55" fill="#8e142f" stroke="#3e0714" stroke-width="1.15"/>
<circle cx="348.90" cy="293.00" r="1.55" fill="#8e142f" stroke="#3e0714" stroke-width="1.15"/>
<circle cx="353.60" cy="295.00" r="1.55" fill="#8e142f" stroke="#3e0714" stroke-width="1.15"/>
<circle cx="358.20" cy="294.20" r="1.55" fill="#8e142f" stroke="#3e0714" stroke-width="1.15"/>
<circle cx="363.70" cy="295.00" r="1.55" fill="#8e142f" stroke="#3e0714" stroke-width="1.15"/>
<circle cx="356.30" cy="298.70" r="1.55" fill="#8e142f" stroke="#3e0714" stroke-width="1.15"/>
<line x1="286.00" y1="210.10" x2="286.00" y2="314.70" stroke="#2b2b2b" stroke-width="1.4"/>
<line x1="282.80" y1="314.00" x2="286.00" y2="314.00" stroke="#2b2b2b" stroke-width="1.2"/>
<text x="279.60" y="316.60" font-size="8.6" text-anchor="end" font-weight="normal" fill="#161616" textLength="4.40" lengthAdjust="spacingAndGlyphs">0</text>
<line x1="282.80" y1="280.47" x2="286.00" y2="280.47" stroke="#2b2b2b" stroke-width="1.2"/>
<text x="279.60" y="283.07" font-size="8.6" text-anchor="end" font-weight="normal" fill="#161616" textLength="4.40" lengthAdjust="spacingAndGlyphs">5</text>
<line x1="282.80" y1="246.93" x2="286.00" y2="246.93" stroke="#2b2b2b" stroke-width="1.2"/>
<text x="279.60" y="249.53" font-size="8.6" text-anchor="end" font-weight="normal" fill="#161616" textLength="8.80" lengthAdjust="spacingAndGlyphs">10</text>
<line x1="282.80" y1="213.40" x2="286.00" y2="213.40" stroke="#2b2b2b" stroke-width="1.2"/>
<text x="279.60" y="216.00" font-size="8.6" text-anchor="end" font-weight="normal" fill="#161616" textLength="8.80" lengthAdjust="spacingAndGlyphs">15</text>
<line x1="285.30" y1="314.00" x2="374.00" y2="314.00" stroke="#2b2b2b" stroke-width="1.4"/>
<line x1="303.60" y1="314.00" x2="303.60" y2="317.20" stroke="#2b2b2b" stroke-width="1.2"/>
<line x1="330.00" y1="314.00" x2="330.00" y2="317.20" stroke="#2b2b2b" stroke-width="1.2"/>
<line x1="356.30" y1="314.00" x2="356.30" y2="317.20" stroke="#2b2b2b" stroke-width="1.2"/>
<text x="303.60" y="327.60" font-size="9.2" text-anchor="middle" font-weight="normal" fill="#161616" textLength="19.00" lengthAdjust="spacingAndGlyphs">CTRL</text>
<text x="330.00" y="327.60" font-size="9.2" text-anchor="middle" font-weight="normal" fill="#161616" textLength="20.40" lengthAdjust="spacingAndGlyphs">≥25%</text>
<text x="356.30" y="327.60" font-size="9.2" text-anchor="middle" font-weight="normal" fill="#161616" textLength="19.90" lengthAdjust="spacingAndGlyphs">&lt;25%</text>
<text x="265.00" y="262.00" font-size="9.6" text-anchor="middle" font-weight="normal" fill="#161616" textLength="55.00" lengthAdjust="spacingAndGlyphs" transform="rotate(-90 265.00 262.00)">Lag time (mins)</text>
<line x1="303.10" y1="197.40" x2="356.90" y2="197.40" stroke="#2b2b2b" stroke-width="1.3"/>
<text x="330.40" y="198.00" font-size="8.5" text-anchor="middle" font-weight="bold" fill="#161616">*</text>
<line x1="303.10" y1="219.50" x2="330.30" y2="219.50" stroke="#2b2b2b" stroke-width="1.3"/>
<text x="316.60" y="215.00" font-size="8.6" text-anchor="middle" font-weight="normal" fill="#161616" textLength="7.80" lengthAdjust="spacingAndGlyphs">ns</text>
<line x1="320.80" y1="334.40" x2="366.10" y2="334.40" stroke="#2b2b2b" stroke-width="1.3"/>
<text x="343.30" y="345.60" font-size="9.4" text-anchor="middle" font-weight="normal" fill="#161616" textLength="49.70" lengthAdjust="spacingAndGlyphs">HAE C1INH act</text>
<rect x="435.10" y="271.80" width="16.00" height="42.20" fill="#e4e4e8"/>
<rect x="461.50" y="256.70" width="16.00" height="57.30" fill="#e8a49b"/>
<rect x="487.70" y="253.20" width="16.00" height="60.80" fill="#d24a46"/>
<line x1="443.10" y1="260.00" x2="443.10" y2="280.40" stroke="#262626" stroke-width="1.1"/>
<line x1="438.80" y1="260.00" x2="447.40" y2="260.00" stroke="#262626" stroke-width="1.1"/>
<line x1="438.80" y1="280.40" x2="447.40" y2="280.40" stroke="#262626" stroke-width="1.1"/>
<line x1="469.20" y1="244.30" x2="469.20" y2="274.30" stroke="#262626" stroke-width="1.1"/>
<line x1="464.90" y1="244.30" x2="473.50" y2="244.30" stroke="#262626" stroke-width="1.1"/>
<line x1="464.90" y1="274.30" x2="473.50" y2="274.30" stroke="#262626" stroke-width="1.1"/>
<line x1="495.60" y1="248.10" x2="495.60" y2="258.40" stroke="#262626" stroke-width="1.1"/>
<line x1="492.00" y1="248.10" x2="499.20" y2="248.10" stroke="#262626" stroke-width="1.1"/>
<line x1="492.00" y1="258.40" x2="499.20" y2="258.40" stroke="#262626" stroke-width="1.1"/>
<circle cx="443.10" cy="239.10" r="1.55" fill="#ffffff" stroke="#333333" stroke-width="1.15"/>
<circle cx="443.10" cy="244.00" r="1.55" fill="#ffffff" stroke="#333333" stroke-width="1.15"/>
<circle cx="443.10" cy="250.50" r="1.55" fill="#ffffff" stroke="#333333" stroke-width="1.15"/>
<circle cx="443.10" cy="253.50" r="1.55" fill="#ffffff" stroke="#333333" stroke-width="1.15"/>
<circle cx="440.14" cy="259.80" r="1.55" fill="#ffffff" stroke="#333333" stroke-width="1.15"/>
<circle cx="445.80" cy="259.80" r="1.55" fill="#ffffff" stroke="#333333" stroke-width="1.15"/>
<circle cx="435.88" cy="267.70" r="1.55" fill="#ffffff" stroke="#333333" stroke-width="1.15"/>
<circle cx="440.49" cy="267.20" r="1.55" fill="#ffffff" stroke="#333333" stroke-width="1.15"/>
<circle cx="445.45" cy="267.00" r="1.55" fill="#ffffff" stroke="#333333" stroke-width="1.15"/>
<circle cx="450.41" cy="266.00" r="1.55" fill="#ffffff" stroke="#333333" stroke-width="1.15"/>
<circle cx="450.41" cy="269.80" r="1.55" fill="#ffffff" stroke="#333333" stroke-width="1.15"/>
<circle cx="440.49" cy="270.20" r="1.55" fill="#ffffff" stroke="#333333" stroke-width="1.15"/>
<circle cx="445.45" cy="272.10" r="1.55" fill="#ffffff" stroke="#333333" stroke-width="1.15"/>
<circle cx="440.49" cy="274.00" r="1.55" fill="#ffffff" stroke="#333333" stroke-width="1.15"/>
<circle cx="445.45" cy="276.70" r="1.55" fill="#ffffff" stroke="#333333" stroke-width="1.15"/>
<circle cx="440.49" cy="281.60" r="1.55" fill="#ffffff" stroke="#333333" stroke-width="1.15"/>
<circle cx="445.45" cy="283.10" r="1.55" fill="#ffffff" stroke="#333333" stroke-width="1.15"/>
<circle cx="443.10" cy="287.00" r="1.55" fill="#ffffff" stroke="#333333" stroke-width="1.15"/>
<circle cx="442.84" cy="290.40" r="1.55" fill="#ffffff" stroke="#333333" stroke-width="1.15"/>
<circle cx="443.10" cy="303.10" r="1.55" fill="#ffffff" stroke="#333333" stroke-width="1.15"/>
<circle cx="466.10" cy="239.60" r="1.55" fill="#cc8a84" stroke="#5a2624" stroke-width="1.15"/>
<circle cx="472.10" cy="239.60" r="1.55" fill="#cc8a84" stroke="#5a2624" stroke-width="1.15"/>
<circle cx="466.10" cy="249.00" r="1.55" fill="#cc8a84" stroke="#5a2624" stroke-width="1.15"/>
<circle cx="472.10" cy="250.30" r="1.55" fill="#cc8a84" stroke="#5a2624" stroke-width="1.15"/>
<circle cx="466.10" cy="256.70" r="1.55" fill="#cc8a84" stroke="#5a2624" stroke-width="1.15"/>
<circle cx="472.10" cy="257.00" r="1.55" fill="#cc8a84" stroke="#5a2624" stroke-width="1.15"/>
<circle cx="469.20" cy="270.90" r="1.55" fill="#cc8a84" stroke="#5a2624" stroke-width="1.15"/>
<circle cx="469.20" cy="277.20" r="1.55" fill="#cc8a84" stroke="#5a2624" stroke-width="1.15"/>
<circle cx="469.20" cy="299.80" r="1.55" fill="#cc8a84" stroke="#5a2624" stroke-width="1.15"/>
<circle cx="492.00" cy="245.30" r="1.55" fill="#8e142f" stroke="#3e0714" stroke-width="1.15"/>
<circle cx="499.10" cy="245.10" r="1.55" fill="#8e142f" stroke="#3e0714" stroke-width="1.15"/>
<circle cx="495.40" cy="248.70" r="1.55" fill="#8e142f" stroke="#3e0714" stroke-width="1.15"/>
<circle cx="488.30" cy="251.50" r="1.55" fill="#8e142f" stroke="#3e0714" stroke-width="1.15"/>
<circle cx="502.80" cy="252.10" r="1.55" fill="#8e142f" stroke="#3e0714" stroke-width="1.15"/>
<circle cx="495.40" cy="253.00" r="1.55" fill="#8e142f" stroke="#3e0714" stroke-width="1.15"/>
<circle cx="488.30" cy="255.80" r="1.55" fill="#8e142f" stroke="#3e0714" stroke-width="1.15"/>
<circle cx="502.80" cy="256.40" r="1.55" fill="#8e142f" stroke="#3e0714" stroke-width="1.15"/>
<circle cx="495.40" cy="263.80" r="1.55" fill="#8e142f" stroke="#3e0714" stroke-width="1.15"/>
<circle cx="495.40" cy="276.00" r="1.55" fill="#8e142f" stroke="#3e0714" stroke-width="1.15"/>
<line x1="425.60" y1="210.10" x2="425.60" y2="314.70" stroke="#2b2b2b" stroke-width="1.4"/>
<line x1="422.40" y1="314.00" x2="425.60" y2="314.00" stroke="#2b2b2b" stroke-width="1.2"/>
<text x="419.20" y="316.60" font-size="8.6" text-anchor="end" font-weight="normal" fill="#161616" textLength="4.40" lengthAdjust="spacingAndGlyphs">0</text>
<line x1="422.40" y1="280.47" x2="425.60" y2="280.47" stroke="#2b2b2b" stroke-width="1.2"/>
<text x="419.20" y="283.07" font-size="8.6" text-anchor="end" font-weight="normal" fill="#161616" textLength="13.20" lengthAdjust="spacingAndGlyphs">200</text>
<line x1="422.40" y1="246.93" x2="425.60" y2="246.93" stroke="#2b2b2b" stroke-width="1.2"/>
<text x="419.20" y="249.53" font-size="8.6" text-anchor="end" font-weight="normal" fill="#161616" textLength="13.20" lengthAdjust="spacingAndGlyphs">400</text>
<line x1="422.40" y1="213.40" x2="425.60" y2="213.40" stroke="#2b2b2b" stroke-width="1.2"/>
<text x="419.20" y="216.00" font-size="8.6" text-anchor="end" font-weight="normal" fill="#161616" textLength="13.20" lengthAdjust="spacingAndGlyphs">600</text>
<line x1="424.90" y1="314.00" x2="513.30" y2="314.00" stroke="#2b2b2b" stroke-width="1.4"/>
<line x1="443.10" y1="314.00" x2="443.10" y2="317.20" stroke="#2b2b2b" stroke-width="1.2"/>
<line x1="469.50" y1="314.00" x2="469.50" y2="317.20" stroke="#2b2b2b" stroke-width="1.2"/>
<line x1="495.70" y1="314.00" x2="495.70" y2="317.20" stroke="#2b2b2b" stroke-width="1.2"/>
<text x="443.10" y="327.60" font-size="9.2" text-anchor="middle" font-weight="normal" fill="#161616" textLength="19.00" lengthAdjust="spacingAndGlyphs">CTRL</text>
<text x="469.50" y="327.60" font-size="9.2" text-anchor="middle" font-weight="normal" fill="#161616" textLength="20.40" lengthAdjust="spacingAndGlyphs">≥25%</text>
<text x="495.70" y="327.60" font-size="9.2" text-anchor="middle" font-weight="normal" fill="#161616" textLength="19.90" lengthAdjust="spacingAndGlyphs">&lt;25%</text>
<text x="400.40" y="262.50" font-size="9.6" text-anchor="middle" font-weight="normal" fill="#161616" textLength="35.50" lengthAdjust="spacingAndGlyphs" transform="rotate(-90 400.40 262.50)">Peak (nM)</text>
<line x1="442.50" y1="195.90" x2="495.70" y2="195.90" stroke="#2b2b2b" stroke-width="1.3"/>
<text x="469.50" y="196.40" font-size="8.5" text-anchor="middle" font-weight="bold" fill="#161616">*</text>
<line x1="442.50" y1="219.90" x2="469.10" y2="219.90" stroke="#2b2b2b" stroke-width="1.3"/>
<text x="455.90" y="215.40" font-size="8.6" text-anchor="middle" font-weight="normal" fill="#161616" textLength="7.80" lengthAdjust="spacingAndGlyphs">ns</text>
<line x1="459.60" y1="334.40" x2="505.40" y2="334.40" stroke="#2b2b2b" stroke-width="1.3"/>
<text x="482.50" y="345.60" font-size="9.4" text-anchor="middle" font-weight="normal" fill="#161616" textLength="49.70" lengthAdjust="spacingAndGlyphs">HAE C1INH act</text>
<line x1="69.9" y1="463.5" x2="159.4" y2="406.4" stroke="#1a1a1a" stroke-width="1.3"/>
<circle cx="89.60" cy="397.10" r="1.95" fill="#d2d2d2" stroke="#333333" stroke-width="1.05"/>
<circle cx="86.40" cy="400.70" r="1.95" fill="#d2d2d2" stroke="#333333" stroke-width="1.05"/>
<circle cx="94.30" cy="402.80" r="1.95" fill="#d2d2d2" stroke="#333333" stroke-width="1.05"/>
<circle cx="92.80" cy="405.50" r="1.95" fill="#d2d2d2" stroke="#333333" stroke-width="1.05"/>
<circle cx="106.10" cy="402.80" r="1.95" fill="#d2d2d2" stroke="#333333" stroke-width="1.05"/>
<circle cx="113.50" cy="403.80" r="1.95" fill="#d2d2d2" stroke="#333333" stroke-width="1.05"/>
<circle cx="123.50" cy="399.60" r="1.95" fill="#d2d2d2" stroke="#333333" stroke-width="1.05"/>
<circle cx="140.00" cy="408.10" r="1.95" fill="#d2d2d2" stroke="#333333" stroke-width="1.05"/>
<circle cx="159.40" cy="411.50" r="1.95" fill="#d2d2d2" stroke="#333333" stroke-width="1.05"/>
<circle cx="85.40" cy="415.10" r="1.95" fill="#d2d2d2" stroke="#333333" stroke-width="1.05"/>
<circle cx="94.30" cy="412.30" r="1.95" fill="#d2d2d2" stroke="#333333" stroke-width="1.05"/>
<circle cx="85.50" cy="444.30" r="1.95" fill="#cd8d86" stroke="#4a2828" stroke-width="1.05"/>
<circle cx="82.40" cy="452.00" r="1.95" fill="#cd8d86" stroke="#4a2828" stroke-width="1.05"/>
<circle cx="106.10" cy="448.50" r="1.95" fill="#cd8d86" stroke="#4a2828" stroke-width="1.05"/>
<circle cx="106.10" cy="452.30" r="1.95" fill="#cd8d86" stroke="#4a2828" stroke-width="1.05"/>
<circle cx="101.50" cy="453.40" r="1.95" fill="#cd8d86" stroke="#4a2828" stroke-width="1.05"/>
<circle cx="123.90" cy="449.20" r="1.95" fill="#cd8d86" stroke="#4a2828" stroke-width="1.05"/>
<circle cx="101.50" cy="462.00" r="1.95" fill="#cd8d86" stroke="#4a2828" stroke-width="1.05"/>
<circle cx="103.50" cy="463.10" r="1.95" fill="#cd8d86" stroke="#4a2828" stroke-width="1.05"/>
<circle cx="86.50" cy="466.90" r="1.95" fill="#cd8d86" stroke="#4a2828" stroke-width="1.05"/>
<circle cx="74.70" cy="469.70" r="1.95" fill="#a8142f" stroke="#5a0818" stroke-width="1.05"/>
<circle cx="74.70" cy="476.50" r="1.95" fill="#a8142f" stroke="#5a0818" stroke-width="1.05"/>
<circle cx="80.80" cy="477.40" r="1.95" fill="#a8142f" stroke="#5a0818" stroke-width="1.05"/>
<circle cx="82.40" cy="480.00" r="1.95" fill="#a8142f" stroke="#5a0818" stroke-width="1.05"/>
<circle cx="78.10" cy="481.50" r="1.95" fill="#a8142f" stroke="#5a0818" stroke-width="1.05"/>
<circle cx="76.20" cy="482.60" r="1.95" fill="#a8142f" stroke="#5a0818" stroke-width="1.05"/>
<circle cx="70.10" cy="487.70" r="1.95" fill="#a8142f" stroke="#5a0818" stroke-width="1.05"/>
<circle cx="100.80" cy="488.50" r="1.95" fill="#a8142f" stroke="#5a0818" stroke-width="1.05"/>
<circle cx="104.50" cy="489.20" r="1.95" fill="#a8142f" stroke="#5a0818" stroke-width="1.05"/>
<circle cx="119.30" cy="488.50" r="1.95" fill="#a8142f" stroke="#5a0818" stroke-width="1.05"/>
<line x1="49.55" y1="384.10" x2="49.55" y2="491.10" stroke="#2b2b2b" stroke-width="1.4"/>
<line x1="46.35" y1="490.40" x2="49.55" y2="490.40" stroke="#2b2b2b" stroke-width="1.2"/>
<text x="43.15" y="493.00" font-size="8.6" text-anchor="end" font-weight="normal" fill="#161616" textLength="4.40" lengthAdjust="spacingAndGlyphs">0</text>
<line x1="46.35" y1="473.23" x2="49.55" y2="473.23" stroke="#2b2b2b" stroke-width="1.2"/>
<text x="43.15" y="475.83" font-size="8.6" text-anchor="end" font-weight="normal" fill="#161616" textLength="8.80" lengthAdjust="spacingAndGlyphs">20</text>
<line x1="46.35" y1="456.07" x2="49.55" y2="456.07" stroke="#2b2b2b" stroke-width="1.2"/>
<text x="43.15" y="458.67" font-size="8.6" text-anchor="end" font-weight="normal" fill="#161616" textLength="8.80" lengthAdjust="spacingAndGlyphs">40</text>
<line x1="46.35" y1="438.90" x2="49.55" y2="438.90" stroke="#2b2b2b" stroke-width="1.2"/>
<text x="43.15" y="441.50" font-size="8.6" text-anchor="end" font-weight="normal" fill="#161616" textLength="8.80" lengthAdjust="spacingAndGlyphs">60</text>
<line x1="46.35" y1="421.73" x2="49.55" y2="421.73" stroke="#2b2b2b" stroke-width="1.2"/>
<text x="43.15" y="424.33" font-size="8.6" text-anchor="end" font-weight="normal" fill="#161616" textLength="8.80" lengthAdjust="spacingAndGlyphs">80</text>
<line x1="46.35" y1="404.57" x2="49.55" y2="404.57" stroke="#2b2b2b" stroke-width="1.2"/>
<text x="43.15" y="407.17" font-size="8.6" text-anchor="end" font-weight="normal" fill="#161616" textLength="13.20" lengthAdjust="spacingAndGlyphs">100</text>
<line x1="46.35" y1="387.40" x2="49.55" y2="387.40" stroke="#2b2b2b" stroke-width="1.2"/>
<text x="43.15" y="390.00" font-size="8.6" text-anchor="end" font-weight="normal" fill="#161616" textLength="13.20" lengthAdjust="spacingAndGlyphs">120</text>
<line x1="48.85" y1="490.40" x2="175.00" y2="490.40" stroke="#2b2b2b" stroke-width="1.4"/>
<line x1="49.80" y1="490.40" x2="49.80" y2="493.60" stroke="#2b2b2b" stroke-width="1.2"/>
<text x="50.00" y="503.10" font-size="8.6" text-anchor="middle" font-weight="normal" fill="#161616" textLength="4.45" lengthAdjust="spacingAndGlyphs">0</text>
<line x1="67.60" y1="490.40" x2="67.60" y2="493.60" stroke="#2b2b2b" stroke-width="1.2"/>
<text x="67.80" y="503.10" font-size="8.6" text-anchor="middle" font-weight="normal" fill="#161616" textLength="4.45" lengthAdjust="spacingAndGlyphs">2</text>
<line x1="85.40" y1="490.40" x2="85.40" y2="493.60" stroke="#2b2b2b" stroke-width="1.2"/>
<text x="85.60" y="503.10" font-size="8.6" text-anchor="middle" font-weight="normal" fill="#161616" textLength="4.45" lengthAdjust="spacingAndGlyphs">4</text>
<line x1="103.20" y1="490.40" x2="103.20" y2="493.60" stroke="#2b2b2b" stroke-width="1.2"/>
<text x="103.40" y="503.10" font-size="8.6" text-anchor="middle" font-weight="normal" fill="#161616" textLength="4.45" lengthAdjust="spacingAndGlyphs">6</text>
<line x1="121.00" y1="490.40" x2="121.00" y2="493.60" stroke="#2b2b2b" stroke-width="1.2"/>
<text x="121.20" y="503.10" font-size="8.6" text-anchor="middle" font-weight="normal" fill="#161616" textLength="4.45" lengthAdjust="spacingAndGlyphs">8</text>
<line x1="138.80" y1="490.40" x2="138.80" y2="493.60" stroke="#2b2b2b" stroke-width="1.2"/>
<text x="139.00" y="503.10" font-size="8.6" text-anchor="middle" font-weight="normal" fill="#161616" textLength="8.90" lengthAdjust="spacingAndGlyphs">10</text>
<line x1="156.60" y1="490.40" x2="156.60" y2="493.60" stroke="#2b2b2b" stroke-width="1.2"/>
<text x="156.80" y="503.10" font-size="8.6" text-anchor="middle" font-weight="normal" fill="#161616" textLength="8.90" lengthAdjust="spacingAndGlyphs">12</text>
<line x1="174.40" y1="490.40" x2="174.40" y2="493.60" stroke="#2b2b2b" stroke-width="1.2"/>
<text x="174.60" y="503.10" font-size="8.6" text-anchor="middle" font-weight="normal" fill="#161616" textLength="8.90" lengthAdjust="spacingAndGlyphs">14</text>
<text x="113.60" y="516.90" font-size="10.6" text-anchor="middle" font-weight="normal" fill="#161616" textLength="52.50" lengthAdjust="spacingAndGlyphs">Lag time (mins)</text>
<text x="24.50" y="437.20" font-size="10.8" text-anchor="middle" font-weight="normal" fill="#161616" textLength="95.30" lengthAdjust="spacingAndGlyphs" transform="rotate(-90 24.50 437.20)">C1INH activity (% of normal)</text>
<text x="75.9" y="387.2" font-size="8.6" text-anchor="start" fill="#161616" textLength="67.7" lengthAdjust="spacingAndGlyphs">r = 0.382, <tspan font-style="italic">P</tspan> = .034</text>
<line x1="301.6" y1="407.7" x2="397.3" y2="466.4" stroke="#1a1a1a" stroke-width="1.3"/>
<circle cx="302.30" cy="402.20" r="1.95" fill="#d2d2d2" stroke="#333333" stroke-width="1.05"/>
<circle cx="321.30" cy="398.60" r="1.95" fill="#d2d2d2" stroke="#333333" stroke-width="1.05"/>
<circle cx="327.00" cy="407.40" r="1.95" fill="#d2d2d2" stroke="#333333" stroke-width="1.05"/>
<circle cx="334.80" cy="404.50" r="1.95" fill="#d2d2d2" stroke="#333333" stroke-width="1.05"/>
<circle cx="332.30" cy="410.60" r="1.95" fill="#d2d2d2" stroke="#333333" stroke-width="1.05"/>
<circle cx="345.60" cy="396.00" r="1.95" fill="#d2d2d2" stroke="#333333" stroke-width="1.05"/>
<circle cx="352.40" cy="399.60" r="1.95" fill="#d2d2d2" stroke="#333333" stroke-width="1.05"/>
<circle cx="354.50" cy="414.00" r="1.95" fill="#d2d2d2" stroke="#333333" stroke-width="1.05"/>
<circle cx="380.50" cy="402.20" r="1.95" fill="#d2d2d2" stroke="#333333" stroke-width="1.05"/>
<circle cx="390.50" cy="403.20" r="1.95" fill="#d2d2d2" stroke="#333333" stroke-width="1.05"/>
<circle cx="376.10" cy="411.70" r="1.95" fill="#d2d2d2" stroke="#333333" stroke-width="1.05"/>
<circle cx="308.00" cy="449.00" r="1.95" fill="#cd8d86" stroke="#4a2828" stroke-width="1.05"/>
<circle cx="341.70" cy="451.60" r="1.95" fill="#cd8d86" stroke="#4a2828" stroke-width="1.05"/>
<circle cx="350.10" cy="451.60" r="1.95" fill="#cd8d86" stroke="#4a2828" stroke-width="1.05"/>
<circle cx="372.40" cy="448.00" r="1.95" fill="#cd8d86" stroke="#4a2828" stroke-width="1.05"/>
<circle cx="371.50" cy="453.30" r="1.95" fill="#cd8d86" stroke="#4a2828" stroke-width="1.05"/>
<circle cx="384.00" cy="443.80" r="1.95" fill="#cd8d86" stroke="#4a2828" stroke-width="1.05"/>
<circle cx="381.90" cy="462.80" r="1.95" fill="#cd8d86" stroke="#4a2828" stroke-width="1.05"/>
<circle cx="397.70" cy="461.70" r="1.95" fill="#cd8d86" stroke="#4a2828" stroke-width="1.05"/>
<circle cx="397.70" cy="467.40" r="1.95" fill="#cd8d86" stroke="#4a2828" stroke-width="1.05"/>
<circle cx="378.70" cy="469.60" r="1.95" fill="#a8142f" stroke="#5a0818" stroke-width="1.05"/>
<circle cx="360.70" cy="477.20" r="1.95" fill="#a8142f" stroke="#5a0818" stroke-width="1.05"/>
<circle cx="388.90" cy="476.10" r="1.95" fill="#a8142f" stroke="#5a0818" stroke-width="1.05"/>
<circle cx="388.90" cy="480.10" r="1.95" fill="#a8142f" stroke="#5a0818" stroke-width="1.05"/>
<circle cx="373.00" cy="481.80" r="1.95" fill="#a8142f" stroke="#5a0818" stroke-width="1.05"/>
<circle cx="371.90" cy="482.90" r="1.95" fill="#a8142f" stroke="#5a0818" stroke-width="1.05"/>
<circle cx="343.40" cy="488.20" r="1.95" fill="#a8142f" stroke="#5a0818" stroke-width="1.05"/>
<circle cx="378.30" cy="488.20" r="1.95" fill="#a8142f" stroke="#5a0818" stroke-width="1.05"/>
<circle cx="380.00" cy="489.70" r="1.95" fill="#a8142f" stroke="#5a0818" stroke-width="1.05"/>
<circle cx="384.00" cy="487.50" r="1.95" fill="#a8142f" stroke="#5a0818" stroke-width="1.05"/>
<line x1="285.70" y1="384.10" x2="285.70" y2="491.10" stroke="#2b2b2b" stroke-width="1.4"/>
<line x1="282.50" y1="490.40" x2="285.70" y2="490.40" stroke="#2b2b2b" stroke-width="1.2"/>
<text x="279.30" y="493.00" font-size="8.6" text-anchor="end" font-weight="normal" fill="#161616" textLength="4.40" lengthAdjust="spacingAndGlyphs">0</text>
<line x1="282.50" y1="473.23" x2="285.70" y2="473.23" stroke="#2b2b2b" stroke-width="1.2"/>
<text x="279.30" y="475.83" font-size="8.6" text-anchor="end" font-weight="normal" fill="#161616" textLength="8.80" lengthAdjust="spacingAndGlyphs">20</text>
<line x1="282.50" y1="456.07" x2="285.70" y2="456.07" stroke="#2b2b2b" stroke-width="1.2"/>
<text x="279.30" y="458.67" font-size="8.6" text-anchor="end" font-weight="normal" fill="#161616" textLength="8.80" lengthAdjust="spacingAndGlyphs">40</text>
<line x1="282.50" y1="438.90" x2="285.70" y2="438.90" stroke="#2b2b2b" stroke-width="1.2"/>
<text x="279.30" y="441.50" font-size="8.6" text-anchor="end" font-weight="normal" fill="#161616" textLength="8.80" lengthAdjust="spacingAndGlyphs">60</text>
<line x1="282.50" y1="421.73" x2="285.70" y2="421.73" stroke="#2b2b2b" stroke-width="1.2"/>
<text x="279.30" y="424.33" font-size="8.6" text-anchor="end" font-weight="normal" fill="#161616" textLength="8.80" lengthAdjust="spacingAndGlyphs">80</text>
<line x1="282.50" y1="404.57" x2="285.70" y2="404.57" stroke="#2b2b2b" stroke-width="1.2"/>
<text x="279.30" y="407.17" font-size="8.6" text-anchor="end" font-weight="normal" fill="#161616" textLength="13.20" lengthAdjust="spacingAndGlyphs">100</text>
<line x1="282.50" y1="387.40" x2="285.70" y2="387.40" stroke="#2b2b2b" stroke-width="1.2"/>
<text x="279.30" y="390.00" font-size="8.6" text-anchor="end" font-weight="normal" fill="#161616" textLength="13.20" lengthAdjust="spacingAndGlyphs">120</text>
<line x1="285.00" y1="490.40" x2="413.50" y2="490.40" stroke="#2b2b2b" stroke-width="1.4"/>
<line x1="285.90" y1="490.40" x2="285.90" y2="493.60" stroke="#2b2b2b" stroke-width="1.2"/>
<text x="286.10" y="503.10" font-size="8.6" text-anchor="middle" font-weight="normal" fill="#161616" textLength="4.45" lengthAdjust="spacingAndGlyphs">0</text>
<line x1="311.16" y1="490.40" x2="311.16" y2="493.60" stroke="#2b2b2b" stroke-width="1.2"/>
<text x="311.36" y="503.10" font-size="8.6" text-anchor="middle" font-weight="normal" fill="#161616" textLength="13.35" lengthAdjust="spacingAndGlyphs">100</text>
<line x1="336.42" y1="490.40" x2="336.42" y2="493.60" stroke="#2b2b2b" stroke-width="1.2"/>
<text x="336.62" y="503.10" font-size="8.6" text-anchor="middle" font-weight="normal" fill="#161616" textLength="13.35" lengthAdjust="spacingAndGlyphs">200</text>
<line x1="361.68" y1="490.40" x2="361.68" y2="493.60" stroke="#2b2b2b" stroke-width="1.2"/>
<text x="361.88" y="503.10" font-size="8.6" text-anchor="middle" font-weight="normal" fill="#161616" textLength="13.35" lengthAdjust="spacingAndGlyphs">300</text>
<line x1="386.94" y1="490.40" x2="386.94" y2="493.60" stroke="#2b2b2b" stroke-width="1.2"/>
<text x="387.14" y="503.10" font-size="8.6" text-anchor="middle" font-weight="normal" fill="#161616" textLength="13.35" lengthAdjust="spacingAndGlyphs">400</text>
<line x1="412.20" y1="490.40" x2="412.20" y2="493.60" stroke="#2b2b2b" stroke-width="1.2"/>
<text x="412.40" y="503.10" font-size="8.6" text-anchor="middle" font-weight="normal" fill="#161616" textLength="13.35" lengthAdjust="spacingAndGlyphs">500</text>
<text x="350.50" y="516.90" font-size="10.6" text-anchor="middle" font-weight="normal" fill="#161616" textLength="35.10" lengthAdjust="spacingAndGlyphs">Peak (nM)</text>
<text x="260.50" y="437.20" font-size="10.8" text-anchor="middle" font-weight="normal" fill="#161616" textLength="95.30" lengthAdjust="spacingAndGlyphs" transform="rotate(-90 260.50 437.20)">C1INH activity (% of normal)</text>
<text x="312.2" y="387.2" font-size="8.6" text-anchor="start" fill="#161616" textLength="71.9" lengthAdjust="spacingAndGlyphs">r = –0.427, <tspan font-style="italic">P</tspan> = .016</text>
<circle cx="422.30" cy="424.80" r="1.95" fill="#d2d2d2" stroke="#333333" stroke-width="1.05"/>
<text x="428.00" y="427.80" font-size="8.4" text-anchor="start" font-weight="normal" fill="#161616" textLength="18.00" lengthAdjust="spacingAndGlyphs">CTRL</text>
<circle cx="422.30" cy="436.10" r="1.95" fill="#cd8d86" stroke="#4a2828" stroke-width="1.05"/>
<text x="428.00" y="439.10" font-size="8.4" text-anchor="start" font-weight="normal" fill="#161616" textLength="75.00" lengthAdjust="spacingAndGlyphs">HAE C1INH Act ≥25%</text>
<circle cx="422.30" cy="447.40" r="1.95" fill="#a8142f" stroke="#5a0818" stroke-width="1.05"/>
<text x="428.00" y="450.40" font-size="8.4" text-anchor="start" font-weight="normal" fill="#161616" textLength="75.00" lengthAdjust="spacingAndGlyphs">HAE C1INH Act &lt;25%</text>
<rect x="0" y="0" width="520" height="1" fill="#6a6a6a"/>
<rect x="0" y="525" width="520" height="1" fill="#333333"/>
<rect x="0" y="0" width="1" height="526" fill="#464646"/>
<rect x="519" y="0" width="1" height="526" fill="#575757"/>
</svg></body></html>
